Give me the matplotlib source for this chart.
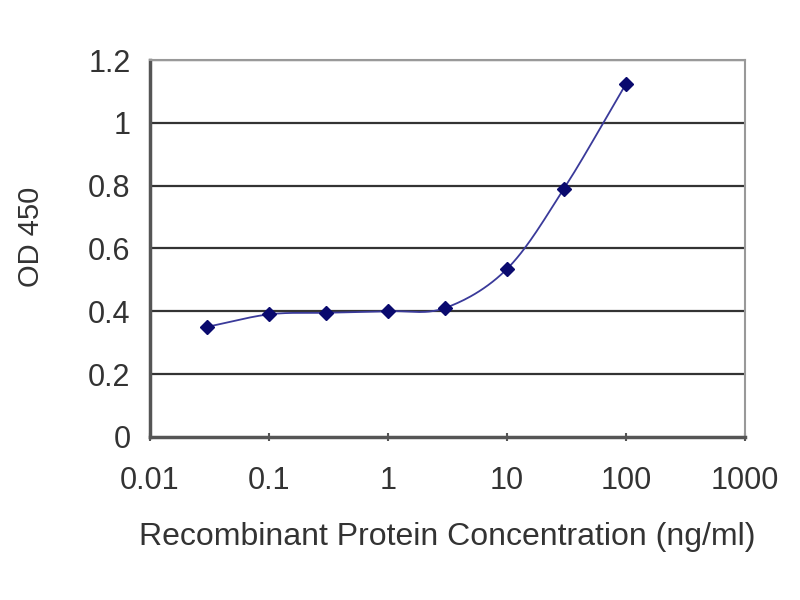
import numpy as np
import matplotlib
matplotlib.use("Agg")
import matplotlib.pyplot as plt

plt.rcParams['font.family'] = ['Liberation Sans', 'DejaVu Sans']

conc = [0.03, 0.1, 0.3, 1, 3, 10, 30, 100]
od = [0.35, 0.39, 0.395, 0.40, 0.41, 0.535, 0.79, 1.125]

x_ticks = [0.01, 0.1, 1, 10, 100, 1000]
x_labels = ['0.01', '0.1', '1', '10', '100', '1000']
y_ticks = [0, 0.2, 0.4, 0.6, 0.8, 1, 1.2]
y_labels = ['0', '0.2', '0.4', '0.6', '0.8', '1', '1.2']


# smoothed line like the spreadsheet chart (Catmull-Rom through the points, in log x)
def smooth(xs, ys, n=30):
    lx = np.log10(xs)
    ys = np.asarray(ys, dtype=float)
    px = np.concatenate([[2 * lx[0] - lx[1]], lx, [2 * lx[-1] - lx[-2]]])
    py = np.concatenate([[2 * ys[0] - ys[1]], ys, [2 * ys[-1] - ys[-2]]])
    out_x, out_y = [], []
    t = np.linspace(0, 1, n)
    for i in range(1, len(px) - 2):
        for p, out in ((px, out_x), (py, out_y)):
            p0, p1, p2, p3 = p[i - 1], p[i], p[i + 1], p[i + 2]
            out.extend(0.5 * ((2 * p1) + (-p0 + p2) * t
                              + (2 * p0 - 5 * p1 + 4 * p2 - p3) * t ** 2
                              + (-p0 + 3 * p1 - 3 * p2 + p3) * t ** 3))
    return 10 ** np.array(out_x), np.array(out_y)


fig = plt.figure(figsize=(8, 6), dpi=100)
ax = fig.add_axes([0.1875, 0.272, 0.744, 0.628])

for yv in y_ticks[1:]:
    ax.axhline(yv, color='#333333', lw=1.6, zorder=1)

sx, sy = smooth(conc, od)
ax.plot(sx, sy, color='#3a3a9a', lw=1.3, zorder=2)
ax.plot(conc, od, linestyle='none', marker='D', color='#0a0a6e', markersize=7, zorder=3)

ax.set_xscale('log')
ax.set_xlim(0.01, 1000)
ax.set_ylim(0, 1.2)
ax.set_xticks(x_ticks)
ax.set_xticklabels(x_labels)
ax.set_yticks(y_ticks)
ax.set_yticklabels(y_labels)
ax.minorticks_off()
ax.tick_params(axis='x', direction='inout', length=6, width=1.5, color='#555555',
               labelsize=22, pad=18, labelcolor='#333333')
ax.tick_params(axis='y', direction='out', length=0, labelsize=22, pad=14, labelcolor='#333333')

ax.spines['left'].set_color('#555555')
ax.spines['left'].set_linewidth(2.5)
ax.spines['bottom'].set_color('#555555')
ax.spines['bottom'].set_linewidth(2.5)
ax.spines['top'].set_color('#999999')
ax.spines['top'].set_linewidth(1.5)
ax.spines['right'].set_color('#999999')
ax.spines['right'].set_linewidth(1.5)

ax.set_xlabel('Recombinant Protein Concentration (ng/ml)', fontsize=23, color='#333333',
              va='center')
ax.xaxis.set_label_coords(0.5, -0.265)
ax.set_ylabel('OD 450', fontsize=21, color='#333333', va='center')
ax.yaxis.set_label_coords(-0.2, 0.53)

fig.savefig('out.png', dpi=100)
